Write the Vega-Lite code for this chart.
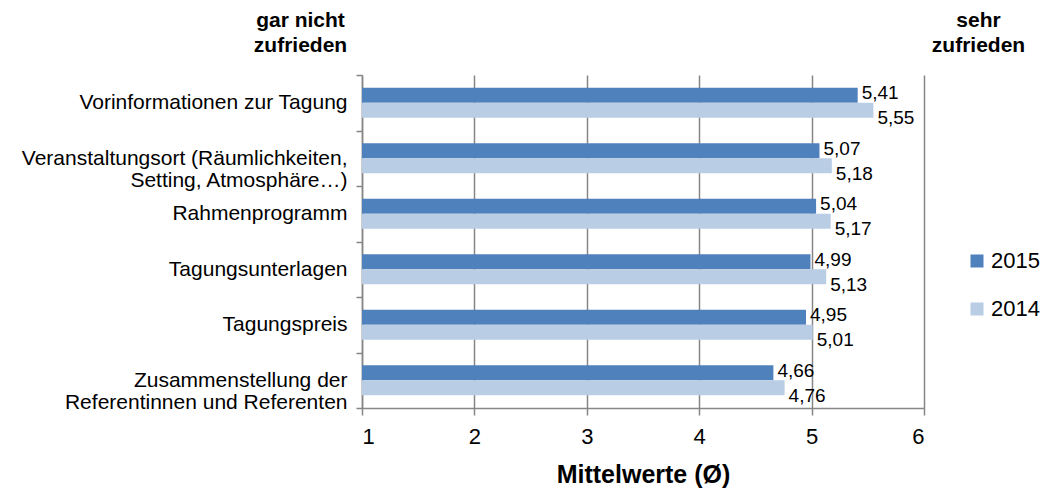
{
  "$schema": "https://vega.github.io/schema/vega-lite/v6.json",
  "width": 562,
  "height": 333,
  "autosize": "none",
  "padding": {"left": 362, "top": 75, "right": 130, "bottom": 84},
  "background": "white",
  "config": {
    "locale": {"number": {"decimal": ",", "thousands": ".", "grouping": [3], "currency": ["", " €"]}},
    "font": "Liberation Sans",
    "view": {"stroke": null}
  },
  "resolve": {"axis": {"y": "independent"}},
  "data": {
    "values": [
      {"item": "Vorinformationen zur Tagung", "year": "2015", "value": 5.41},
      {"item": "Vorinformationen zur Tagung", "year": "2014", "value": 5.55},
      {"item": "Veranstaltungsort (Räumlichkeiten,\nSetting, Atmosphäre…)", "year": "2015", "value": 5.07},
      {"item": "Veranstaltungsort (Räumlichkeiten,\nSetting, Atmosphäre…)", "year": "2014", "value": 5.18},
      {"item": "Rahmenprogramm", "year": "2015", "value": 5.04},
      {"item": "Rahmenprogramm", "year": "2014", "value": 5.17},
      {"item": "Tagungsunterlagen", "year": "2015", "value": 4.99},
      {"item": "Tagungsunterlagen", "year": "2014", "value": 5.13},
      {"item": "Tagungspreis", "year": "2015", "value": 4.95},
      {"item": "Tagungspreis", "year": "2014", "value": 5.01},
      {"item": "Zusammenstellung der\nReferentinnen und Referenten", "year": "2015", "value": 4.66},
      {"item": "Zusammenstellung der\nReferentinnen und Referenten", "year": "2014", "value": 4.76}
    ]
  },
  "encoding": {
    "y": {
      "field": "item",
      "type": "nominal",
      "sort": null,
      "scale": {"paddingInner": 0, "paddingOuter": 0},
      "axis": {
        "title": ["gar nicht", "zufrieden"],
        "titleAngle": 0,
        "titleAlign": "center",
        "titleBaseline": "top",
        "titleX": -62,
        "titleY": -66,
        "titleFontSize": 21,
        "titleFontWeight": "bold",
        "titleLineHeight": 25,
        "titleColor": "#000000",
        "labelExpr": "split(datum.label, '\\n')",
        "labelFontSize": 21,
        "labelLineHeight": 22,
        "labelColor": "#000000",
        "labelPadding": 9,
        "labelLimit": 400,
        "tickBand": "extent",
        "tickSize": 6,
        "tickColor": "#868686",
        "tickWidth": 1.5,
        "domainColor": "#868686",
        "domainWidth": 1.5,
        "grid": false
      }
    },
    "yOffset": {
      "field": "year",
      "type": "nominal",
      "sort": ["2015", "2014"],
      "scale": {"paddingInner": 0, "paddingOuter": 0.85}
    },
    "x": {
      "field": "value",
      "type": "quantitative",
      "scale": {"domain": [1, 6], "zero": false, "nice": false},
      "axis": {
        "title": "Mittelwerte (Ø)",
        "titleFontSize": 25,
        "titleFontWeight": "bold",
        "titleColor": "#000000",
        "titlePadding": 15,
        "values": [1, 2, 3, 4, 5, 6],
        "format": "d",
        "labelFontSize": 22,
        "labelColor": "#000000",
        "labelPadding": 11,
        "tickSize": 7,
        "tickColor": "#868686",
        "tickWidth": 1.5,
        "domainColor": "#868686",
        "domainWidth": 1.5,
        "grid": true,
        "gridColor": "#868686",
        "gridWidth": 1.5
      }
    }
  },
  "layer": [
    {
      "mark": {"type": "bar"},
      "encoding": {
        "x2": {"datum": 1},
        "color": {
          "field": "year",
          "type": "nominal",
          "sort": ["2015", "2014"],
          "scale": {"domain": ["2015", "2014"], "range": ["#4F81BD", "#B9CDE5"]},
          "legend": {
            "title": null,
            "orient": "none",
            "legendX": 604,
            "legendY": 175,
            "symbolType": "square",
            "symbolSize": 169,
            "symbolStrokeWidth": 0,
            "labelFontSize": 22,
            "labelColor": "#000000",
            "labelOffset": 3,
            "rowPadding": 26,
            "padding": 0
          }
        }
      }
    },
    {
      "transform": [{"filter": "datum.year == '2015'"}],
      "mark": {"type": "text", "align": "left", "baseline": "middle", "dx": 4, "dy": -2, "fontSize": 19, "color": "#000000"},
      "encoding": {
        "y": {"field": "item", "type": "nominal", "sort": null, "axis": null},
        "text": {"field": "value", "type": "quantitative", "format": ".2f"}
      }
    },
    {
      "transform": [{"filter": "datum.year == '2014'"}],
      "mark": {"type": "text", "align": "left", "baseline": "middle", "dx": 4, "dy": 8, "fontSize": 19, "color": "#000000"},
      "encoding": {
        "y": {
          "field": "item",
          "type": "nominal",
          "sort": null,
          "axis": {
            "orient": "right",
            "title": ["sehr", "zufrieden"],
            "titleAngle": 0,
            "titleAlign": "center",
            "titleBaseline": "top",
            "titleX": 54,
            "titleY": -66,
            "titleFontSize": 21,
            "titleFontWeight": "bold",
            "titleLineHeight": 25,
            "titleColor": "#000000",
            "labels": false,
            "ticks": false,
            "domain": false,
            "grid": false
          }
        },
        "text": {"field": "value", "type": "quantitative", "format": ".2f"}
      }
    }
  ]
}
